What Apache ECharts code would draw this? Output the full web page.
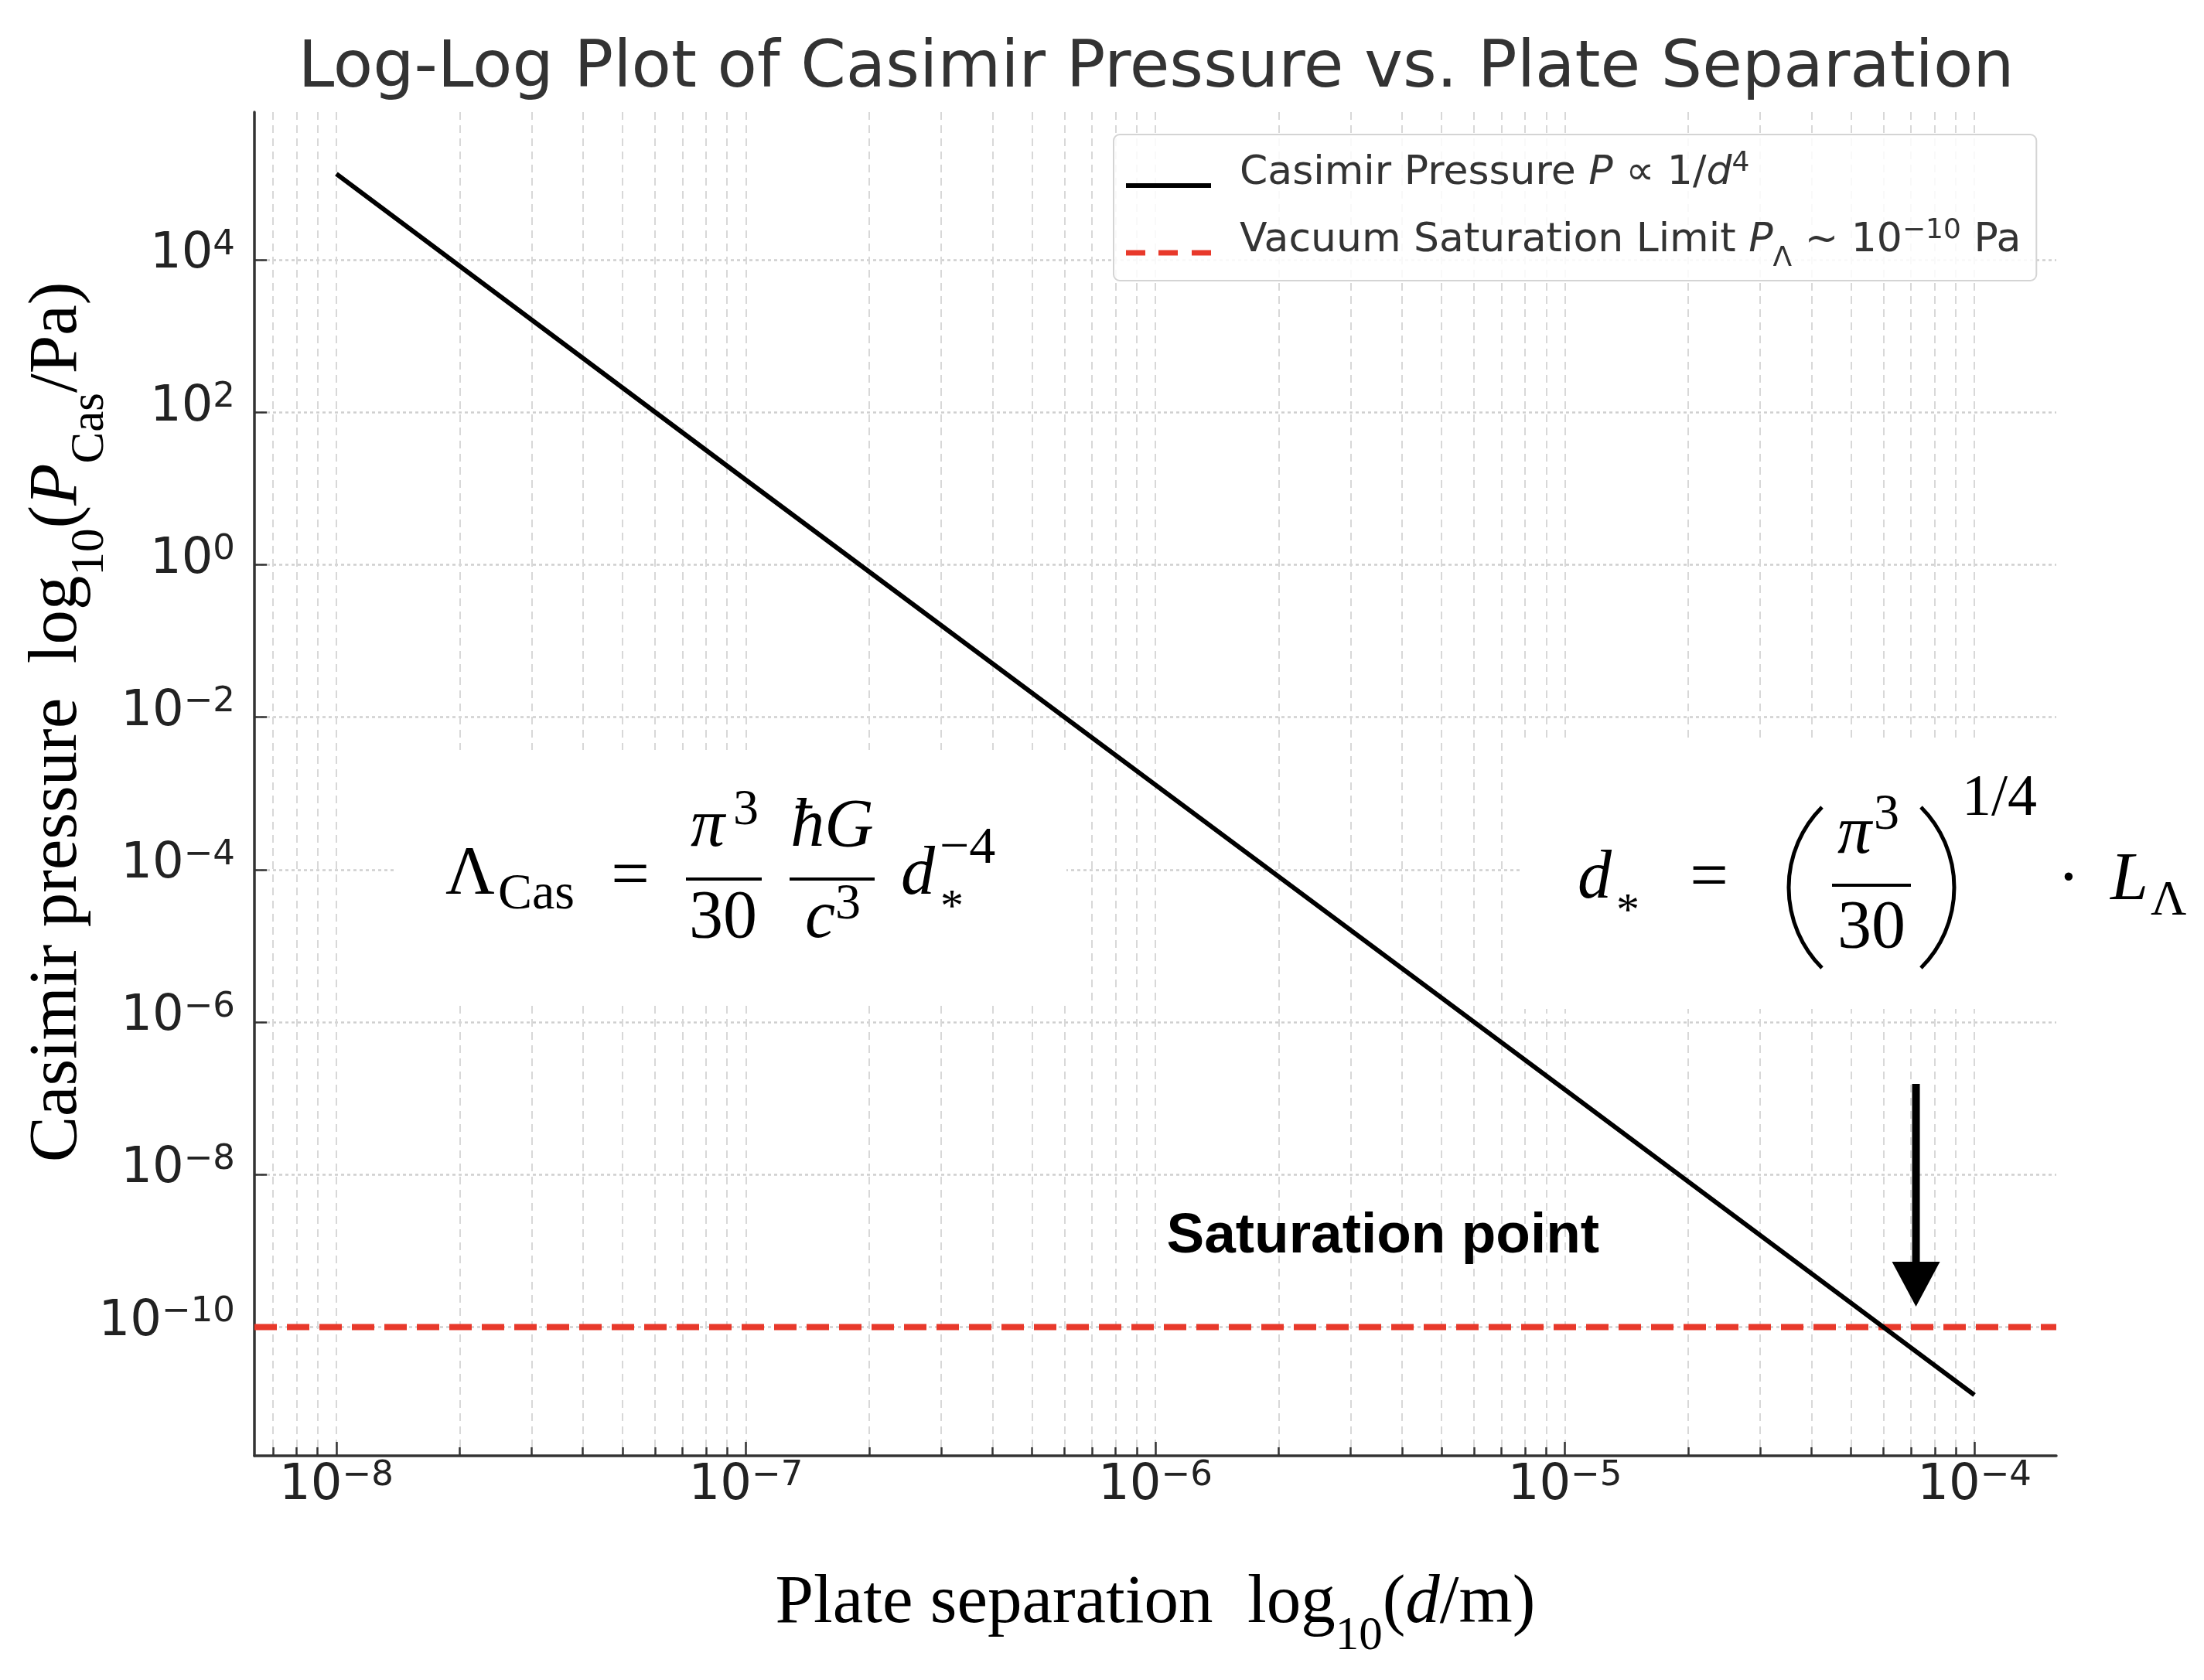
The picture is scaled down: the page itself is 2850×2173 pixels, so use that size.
<!DOCTYPE html>
<html><head><meta charset="utf-8">
<script src="https://cdn.jsdelivr.net/npm/echarts@6/dist/echarts.min.js"></script>
<style>html,body{margin:0;padding:0;background:#fff}#c{width:2850px;height:2173px}</style>
</head><body><div id="c"></div>
<script>
// ---------------- data ----------------
const separation = [1e-8, 1e-7, 1e-6, 1e-5, 1e-4];                 // d (m)
const pressure   = [1.35e5, 1.3e1, 1.3e-3, 1.3e-7, 1.28e-11];       // P_Cas (Pa)
const saturationLevel = 1e-10;                                      // P_Lambda (Pa)
const xMajorTicks = [1e-8, 1e-7, 1e-6, 1e-5, 1e-4];
const xMinorTicks = [7e-9, 8e-9, 9e-9,
  2e-8, 3e-8, 4e-8, 5e-8, 6e-8, 7e-8, 8e-8, 9e-8,
  2e-7, 3e-7, 4e-7, 5e-7, 6e-7, 7e-7, 8e-7, 9e-7,
  2e-6, 3e-6, 4e-6, 5e-6, 6e-6, 7e-6, 8e-6, 9e-6,
  2e-5, 3e-5, 4e-5, 5e-5, 6e-5, 7e-5, 8e-5, 9e-5];
const yMajorTicks = [1e-10, 1e-8, 1e-6, 1e-4, 1e-2, 1, 1e2, 1e4];
const xRange = [Math.pow(10, -8.2), Math.pow(10, -3.8)];
const yRange = [Math.pow(10, -11.69), Math.pow(10, 5.94)];
const arrowData = [[7.2e-5, 1.55e-7, 1.85e-10]];      // x, shaft top, tip
const satLabelData = [[1.065e-6, 1.52e-9]];            // left-middle anchor
const satLabelText = 'Saturation point';
const seriesNames = ['Casimir Pressure', 'Vacuum Saturation Limit'];
const titleText = 'Log-Log Plot of Casimir Pressure vs. Plate Separation';

// ---------------- styles ----------------
const SANS = 'DejaVu Sans', SERIF = 'Liberation Serif';
const RED = '#e8392b', AX = '#333333';

function powLabel(v) {
  const e = Math.round(Math.log10(v));
  return '{b|10}{s|' + (e < 0 ? '\u2212' : '') + Math.abs(e) + '}';
}
const tickRich = {
  b: { fontFamily: SANS, fontSize: 64, color: '#222', lineHeight: 66, verticalAlign: 'bottom' },
  s: { fontFamily: SANS, fontSize: 45, color: '#222', lineHeight: 66, verticalAlign: 'bottom', padding: [0, 0, 22, 0] }
};
const NF = 89;
const nameRich = {
  t: { fontFamily: SERIF, fontSize: NF, color: '#000', lineHeight: 104, verticalAlign: 'bottom', padding: [0, 0, 28, 0] },
  i: { fontFamily: SERIF, fontSize: NF, fontStyle: 'italic', color: '#000', lineHeight: 104, verticalAlign: 'bottom', padding: [0, 0, 28, 0] },
  s: { fontFamily: SERIF, fontSize: 61, color: '#000', lineHeight: 104, verticalAlign: 'bottom', padding: [0, 0, 0, 0] }
};
const LF = 52;
const legRich = {
  t0: { fontFamily: SANS, fontSize: LF, color: '#333', lineHeight: 52, verticalAlign: 'bottom', padding: [0, 0, 16, 32] },
  t:  { fontFamily: SANS, fontSize: LF, color: '#333', lineHeight: 52, verticalAlign: 'bottom', padding: [0, 0, 16, 0] },
  i:  { fontFamily: SANS, fontSize: LF, fontStyle: 'italic', color: '#333', lineHeight: 52, verticalAlign: 'bottom', padding: [0, 0, 16, 0] },
  sup:{ fontFamily: SANS, fontSize: 36, color: '#333', lineHeight: 52, verticalAlign: 'bottom', padding: [0, 0, 36, 0] },
  sub:{ fontFamily: SANS, fontSize: 36, color: '#333', lineHeight: 52, verticalAlign: 'bottom', padding: [0, 0, 0, 0] }
};
const legendLabels = {};
legendLabels[seriesNames[0]] = '{t0|Casimir Pressure }{i|P}{t| \u221D 1/}{i|d}{sup|4}';
legendLabels[seriesNames[1]] = '{t0|Vacuum Saturation Limit }{i|P}{sub|\u039B}{t| ~ 10}{sup|\u221210}{t| Pa}';
const legendIcons = {};
legendIcons[seriesNames[0]] = 'path://M0 0H110V6H0Z';
legendIcons[seriesNames[1]] = 'path://M0 0H25V7H0Z M42 0H67V7H42Z M85 0H110V7H85Z';

// formula text helpers (annotation graphics)
function T(text, x, base, size, o) {
  o = o || {};
  return { type: 'text', x: x, y: base - 0.3375 * size, z: 30,
    style: { text: text, fontFamily: SERIF, fontSize: size, fontStyle: o.it ? 'italic' : 'normal',
      fill: '#000', align: o.align || 'left', verticalAlign: 'middle' } };
}
function TC(text, x, center, size, emCenter, o) {   // place by glyph centre
  return T(text, x, center + emCenter * size, size, o);
}
function BAR(x1, x2, y) {
  return { type: 'rect', z: 30, shape: { x: x1, y: y - 2, width: x2 - x1, height: 4 }, style: { fill: '#000' } };
}
function PAREN(bulgeX, endX, cy, half, left) {
  const s = Math.abs(endX - bulgeX), R = (half * half + s * s) / (2 * s), a = Math.asin(half / R);
  const cx = left ? bulgeX + R : bulgeX - R;
  return { type: 'arc', z: 30, shape: { cx: cx, cy: cy, r: R,
      startAngle: left ? Math.PI - a : -a, endAngle: left ? Math.PI + a : a, clockwise: true },
    style: { stroke: '#000', lineWidth: 5, fill: null } };
}
const F = 88;
const formulaGraphics = [
  { type: 'rect', z: 29, shape: { x: 512, y: 970, width: 867, height: 327 }, style: { fill: '#fff' } },
  { type: 'rect', z: 29, shape: { x: 1967, y: 955, width: 883, height: 350 }, style: { fill: '#fff' } },
  // Lambda_Cas = pi^3/30 * hbar G / c^3 * d_*^-4
  T('\u039B', 576, 1162, F),
  T('Cas', 644, 1180, 66),
  TC('=', 815, 1143, F, 0.256, { align: 'center' }),
  BAR(887, 985, 1137),
  T('\u03C0', 893, 1101, F, { it: true }),
  T('3', 948, 1071, 66),
  T('30', 935, 1219, F, { align: 'center' }),
  BAR(1021, 1131, 1137),
  T('\u0127G', 1076, 1101, F, { it: true, align: 'center' }),
  T('c', 1041, 1219, F, { it: true }),
  T('3', 1080, 1193, 66),
  T('d', 1165, 1163, F, { it: true }),
  TC('*', 1216, 1167, 60, 0.47),
  T('\u22124', 1215, 1121, 68),
  // d_* = (pi^3/30)^(1/4) . L_Lambda
  T('d', 2040, 1168, F, { it: true }),
  TC('*', 2090, 1172, 60, 0.47),
  TC('=', 2210, 1145, F, 0.256, { align: 'center' }),
  PAREN(2313, 2356, 1148, 104, true),
  BAR(2369, 2471, 1145),
  T('\u03C0', 2376, 1110, F, { it: true }),
  T('3', 2423, 1077, 66),
  T('30', 2420, 1232, F, { align: 'center' }),
  PAREN(2527, 2484, 1148, 104, false),
  T('1/4', 2537, 1060, 76),
  TC('\u00B7', 2675, 1148, F, 0.245, { align: 'center' }),
  T('L', 2729, 1170, F, { it: true }),
  T('\u039B', 2781, 1188, 64)
];

const chart = echarts.init(document.getElementById('c'), null, { renderer: 'canvas' });
const gridSplitX = { show: true, lineStyle: { color: '#d8d8d8', width: 2, type: [10, 7] } };

chart.setOption({
  animation: false,
  backgroundColor: '#ffffff',
  title: {
    text: titleText, left: 1495, top: 40, padding: 0, textAlign: 'center',
    textStyle: { fontFamily: SANS, fontSize: 84, fontWeight: 'normal', color: '#333', lineHeight: 100 }
  },
  grid: { left: 329, right: 191, top: 145, bottom: 290 },
  legend: {
    data: seriesNames.map(function (n) { return { name: n, icon: legendIcons[n] }; }),
    orient: 'vertical', left: 1440, top: 174,
    padding: [20, 20, 10, 16], itemWidth: 110, itemHeight: 7, itemGap: 15,
    backgroundColor: 'rgba(255,255,255,0.85)', borderColor: '#d4d4d4', borderWidth: 2, borderRadius: 8,
    formatter: function (n) { return legendLabels[n]; },
    textStyle: { rich: legRich }, selectedMode: false
  },
  xAxis: [{
    type: 'log', logBase: 10, min: xRange[0], max: xRange[1], position: 'bottom',
    axisLine: { show: true, lineStyle: { color: AX, width: 3.5 } },
    axisTick: { show: true, inside: true, length: 18, customValues: xMajorTicks, lineStyle: { color: AX, width: 2.5 } },
    axisLabel: { show: true, customValues: xMajorTicks, margin: 5, formatter: powLabel, rich: tickRich },
    splitLine: gridSplitX,
    name: '{t|Plate separation  log}{s|10}{t|(}{i|d}{t|/m)}',
    nameLocation: 'middle', nameGap: 160, nameMoveOverlap: false,
    nameTextStyle: { rich: nameRich }
  }, {
    type: 'log', logBase: 10, min: xRange[0], max: xRange[1], position: 'bottom', gridIndex: 0,
    axisLine: { show: false },
    axisTick: { show: true, inside: true, length: 11, customValues: xMinorTicks, lineStyle: { color: AX, width: 2.5 } },
    axisLabel: { show: false },
    splitLine: gridSplitX
  }],
  yAxis: {
    type: 'log', logBase: 10, min: yRange[0], max: yRange[1],
    axisLine: { show: true, lineStyle: { color: AX, width: 3.5 } },
    axisTick: { show: true, inside: true, length: 16, customValues: yMajorTicks, lineStyle: { color: AX, width: 2.5 } },
    axisLabel: { show: true, customValues: yMajorTicks, margin: 25, formatter: powLabel, rich: tickRich, padding: [0, 0, 15, 0] },
    splitLine: { show: true, lineStyle: { color: '#cfcfcf', width: 2.5, type: [4, 4] } },
    minorTick: { show: false }, minorSplitLine: { show: false },
    name: '{t|Casimir pressure  log}{s|10}{t|(}{i|P}{s|Cas}{t|/Pa)}',
    nameLocation: 'middle', nameGap: 182, nameRotate: 90, nameMoveOverlap: false,
    nameTextStyle: { rich: nameRich, padding: [0, 0, 0, 160] }
  },
  series: [{
    name: seriesNames[0], type: 'line', xAxisIndex: 0, yAxisIndex: 0, z: 4,
    data: separation.map(function (d, i) { return [d, pressure[i]]; }),
    symbol: 'none', showSymbol: false, lineStyle: { color: '#000', width: 6 }, itemStyle: { color: '#000' }
  }, {
    // horizontal limit line across the whole x-axis extent
    name: seriesNames[1], type: 'line', xAxisIndex: 0, yAxisIndex: 0, z: 3,
    data: xRange.map(function (d) { return [d, saturationLevel]; }),
    symbol: 'none', showSymbol: false,
    lineStyle: { color: RED, width: 8, type: [29, 13] }, itemStyle: { color: RED }
  }, {
    name: 'arrow', type: 'custom', xAxisIndex: 0, yAxisIndex: 0, z: 10, silent: true,
    data: arrowData,
    renderItem: function (params, api) {
      const top = api.coord([api.value(0), api.value(1)]);
      const tip = api.coord([api.value(0), api.value(2)]);
      const headL = 58, headW = 62, shaftW = 10;
      return { type: 'group', children: [
        { type: 'rect', shape: { x: top[0] - shaftW / 2, y: top[1], width: shaftW, height: tip[1] - headL - top[1] + 2 }, style: { fill: '#000' } },
        { type: 'polygon', shape: { points: [[tip[0] - headW / 2, tip[1] - headL], [tip[0] + headW / 2, tip[1] - headL], [tip[0], tip[1]]] }, style: { fill: '#000' } }
      ] };
    }
  }, {
    name: 'label', type: 'custom', xAxisIndex: 0, yAxisIndex: 0, z: 10, silent: true,
    data: satLabelData,
    renderItem: function (params, api) {
      const p = api.coord([api.value(0), api.value(1)]);
      return { type: 'text', x: p[0], y: p[1],
        style: { text: satLabelText, fontFamily: 'Liberation Sans', fontWeight: 'bold', fontSize: 73,
          fill: '#000', align: 'left', verticalAlign: 'middle' } };
    }
  }],
  graphic: { elements: formulaGraphics }
});
</script>
</body></html>
